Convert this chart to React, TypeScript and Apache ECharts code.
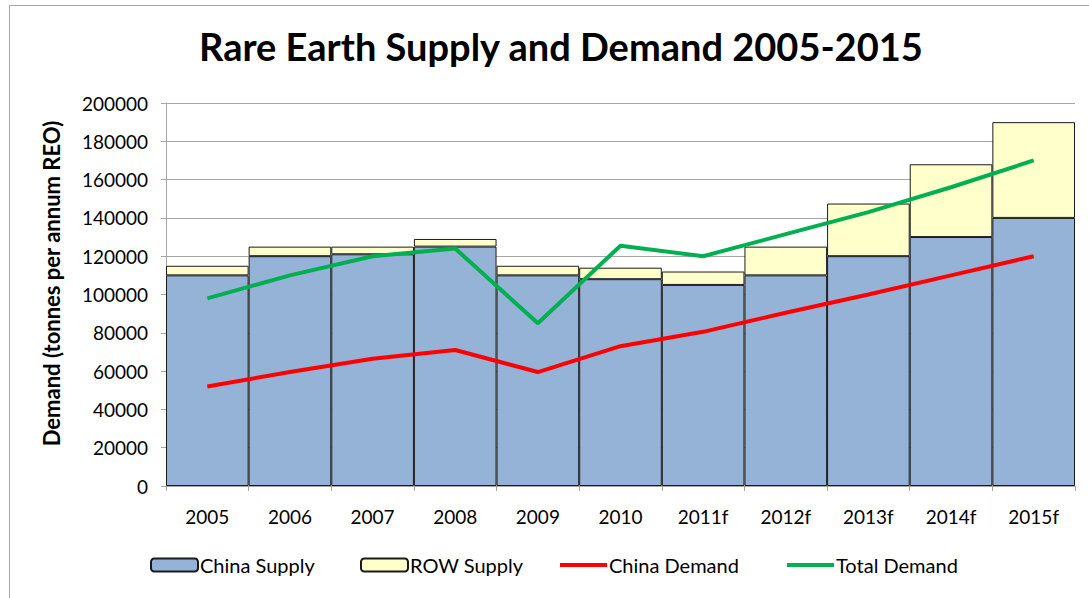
import React, { useEffect, useRef } from "react";
import * as echarts from "echarts";

const categories = ["2005", "2006", "2007", "2008", "2009", "2010", "2011f", "2012f", "2013f", "2014f", "2015f"];
const chinaSupply = [110000, 120000, 121000, 125000, 110000, 108000, 105000, 110000, 120000, 130000, 140000];
const rowSupply = [5000, 5000, 4000, 4000, 5000, 6000, 7000, 15000, 27500, 38000, 50000];
const chinaDemand = [52000, 59500, 66500, 71000, 59500, 73000, 80500, 90500, 100000, 110000, 120000];
const totalDemand = [98000, 110000, 120000, 124000, 85000, 125500, 120000, 131500, 143000, 156000, 170000];

const FONT = "Lato, 'Open Sans', sans-serif";

export default function App() {
  const ref = useRef<HTMLDivElement>(null);
  useEffect(() => {
    const chart = echarts.init(ref.current!, null, { renderer: "svg" });
    const legendBase = {
      top: 555,
      padding: 0,
      itemWidth: 47,
      itemHeight: 13,
      itemGap: 2,
      textStyle: { fontFamily: FONT, fontSize: 20, color: "#000", padding: [0, 0, 0, -3] },
    };
    const lineIcon = "rect";
    chart.setOption({
      animation: false,
      backgroundColor: "#fff",
      title: {
        text: "Rare Earth Supply and Demand 2005-2015",
        left: 194,
        top: 22,
        textStyle: { fontFamily: FONT, fontSize: 38, fontWeight: "bold", color: "#000" },
      },
      graphic: [
        {
          type: "rect",
          shape: { x: 9.5, y: 5.5, width: 1100, height: 620 },
          style: { fill: "none", stroke: "#a6a6a6", lineWidth: 1 },
          silent: true,
        },
      ],
      legend: [
        { ...legendBase, left: 150, data: ["China Supply"] },
        { ...legendBase, left: 360, data: ["ROW Supply"] },
        { ...legendBase, left: 560, itemHeight: 4, data: [{ name: "China Demand", icon: lineIcon }] },
        { ...legendBase, left: 787, itemHeight: 4, data: [{ name: "Total Demand", icon: lineIcon }] },
      ],
      grid: { left: 166, right: 14, top: 103, bottom: 112 },
      xAxis: {
        type: "category",
        data: categories,
        axisLine: { lineStyle: { color: "#a6a6a6", width: 1 } },
        axisTick: { show: true, length: 5, lineStyle: { color: "#a6a6a6" } },
        axisLabel: { fontFamily: FONT, fontSize: 19, color: "#000", margin: 21 },
      },
      yAxis: {
        type: "value",
        min: 0,
        max: 200000,
        interval: 20000,
        name: "Demand (tonnes per annum REO)",
        nameLocation: "middle",
        nameGap: 104,
        nameTextStyle: {
          fontFamily: FONT,
          fontSize: 22,
          fontWeight: "bold",
          color: "#000",
          padding: [0, 0, 0, 22],
        },
        axisLine: { show: true, lineStyle: { color: "#a6a6a6", width: 1 } },
        axisTick: { show: true, length: 5, lineStyle: { color: "#a6a6a6" } },
        axisLabel: {
          fontFamily: FONT,
          fontSize: 19,
          color: "#000",
          margin: 18,
          formatter: (v: number) => String(v),
        },
        splitLine: { lineStyle: { color: "#a6a6a6", width: 1 } },
      },
      series: [
        {
          name: "China Supply",
          type: "bar",
          stack: "supply",
          data: chinaSupply,
          barWidth: "100%",
          barCategoryGap: "0%",
          itemStyle: { color: "#95B3D7", borderColor: "#1a1a1a", borderWidth: 1 },
        },
        {
          name: "ROW Supply",
          type: "bar",
          stack: "supply",
          data: rowSupply,
          barWidth: "100%",
          barCategoryGap: "0%",
          itemStyle: { color: "#FFFFCC", borderColor: "#1a1a1a", borderWidth: 1 },
        },
        {
          name: "China Demand",
          type: "line",
          data: chinaDemand,
          symbol: "none",
          lineStyle: { color: "#FF0000", width: 4 },
          itemStyle: { color: "#FF0000" },
          z: 5,
        },
        {
          name: "Total Demand",
          type: "line",
          data: totalDemand,
          symbol: "none",
          lineStyle: { color: "#00B050", width: 4 },
          itemStyle: { color: "#00B050" },
          z: 5,
        },
      ],
    });
    return () => chart.dispose();
  }, []);
  return (
    <div
      ref={ref}
      style={{ position: "fixed", left: 0, top: 0, width: 1089, height: 598 }}
    />
  );
}
